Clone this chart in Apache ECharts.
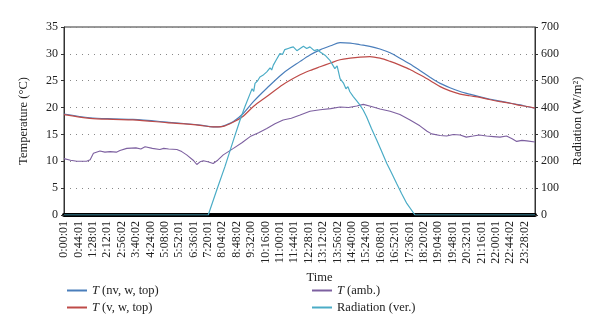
<!DOCTYPE html>
<html>
<head>
<meta charset="utf-8">
<script src="https://cdn.jsdelivr.net/npm/echarts@6/dist/echarts.min.js"></script>
<style>html,body{margin:0;padding:0;background:#fff}#c{width:600px;height:335px}</style>
</head>
<body>
<div id="c"></div>
<script>
// x values are minutes since 0:00
const tickLabels = ['0:00:01','0:44:01','1:28:01','2:12:01','2:56:02','3:40:02','4:24:00','5:08:00','5:52:01','6:36:01','7:20:01','8:04:02','8:48:02','9:32:00','10:16:00','11:00:01','11:44:01','12:28:01','13:12:02','13:56:02','14:40:00','15:24:00','16:08:01','16:52:01','17:36:01','18:20:02','19:04:00','19:48:01','20:32:01','21:16:01','22:00:01','22:44:02','23:28:02'];

const tNvWTop = [[0,18.8],[79,18.1],[150,17.9],[211,17.8],[314,17.3],[416,16.75],[456,16.4],[480,16.45],[497,16.8],[518,17.4],[548,18.9],[579,21.1],[620,23.6],[670,26.4],[722,28.6],[752,29.8],[783,30.75],[815,31.5],[844,32.1],[875,32.0],[905,31.7],[935,31.4],[966,30.9],[997,30.2],[1027,29.2],[1058,28.1],[1088,26.9],[1120,25.6],[1150,24.5],[1180,23.7],[1211,23.0],[1240,22.5],[1272,22.0],[1300,21.6],[1333,21.2],[1365,20.8],[1394,20.5],[1415,20.2],[1440,19.9]];

const tVWTop = [[0,18.7],[79,18.0],[150,17.8],[211,17.7],[314,17.2],[416,16.7],[456,16.4],[487,16.5],[518,17.3],[548,18.4],[579,20.2],[620,22.05],[670,24.3],[722,26.1],[752,26.9],[783,27.6],[815,28.3],[844,28.9],[875,29.2],[905,29.4],[935,29.5],[966,29.2],[997,28.6],[1027,27.9],[1058,27.1],[1088,26.1],[1120,25.0],[1150,23.9],[1180,23.1],[1211,22.5],[1240,22.2],[1272,21.9],[1300,21.5],[1333,21.1],[1365,20.8],[1394,20.4],[1415,20.2],[1440,19.9]];

const tAmb = [[0,10.5],[20,10.2],[39,10.0],[69,10.0],[80,10.3],[90,11.5],[110,11.9],[125,11.7],[141,11.8],[160,11.7],[171,12.0],[192,12.4],[220,12.5],[235,12.3],[248,12.7],[270,12.4],[293,12.2],[305,12.4],[320,12.3],[345,12.2],[360,11.8],[375,11.2],[395,10.2],[406,9.4],[416,9.9],[426,10.1],[440,9.9],[456,9.6],[470,10.2],[487,11.2],[518,12.4],[545,13.5],[569,14.6],[595,15.3],[620,16.1],[645,17.0],[670,17.7],[695,18.0],[722,18.6],[752,19.3],[783,19.6],[815,19.8],[844,20.1],[870,20.0],[895,20.3],[915,20.6],[940,20.2],[966,19.75],[997,19.3],[1027,18.7],[1058,17.7],[1088,16.6],[1110,15.6],[1124,15.1],[1150,14.8],[1170,14.7],[1190,15.0],[1211,14.9],[1230,14.5],[1251,14.7],[1270,14.9],[1292,14.7],[1313,14.6],[1333,14.5],[1353,14.7],[1370,14.2],[1384,13.7],[1400,13.9],[1415,13.8],[1440,13.6]];

const radiationVer = [[0,0],[441,0],[467,93],[492,180],[518,279],[538,353],[553,403],[569,452],[575,470],[580,460],[584,490],[592,500],[599,514],[608,520],[620,533],[630,548],[635,540],[640,558],[650,580],[660,601],[668,598],[675,616],[681,614],[690,622],[701,626],[712,612],[722,620],[732,628],[742,620],[752,626],[765,612],[775,616],[783,607],[798,595],[813,576],[828,545],[835,555],[844,508],[855,490],[862,470],[868,478],[874,459],[885,440],[895,425],[905,409],[915,390],[925,366],[940,322],[956,279],[970,240],[987,192],[1000,160],[1017,117],[1032,80],[1048,43],[1073,0],[1440,0]];

const serif = '"Liberation Serif", "DejaVu Serif", serif';
const chart = echarts.init(document.getElementById('c'));
const legendFmt = n => n.replace(/^T /, '{i|T} ');
const legendText = {fontFamily: serif, fontSize: 12.5, color: '#222', rich: {i: {fontFamily: serif, fontSize: 12.5, fontStyle: 'italic', color: '#222'}}};
chart.setOption({
  animation: false,
  grid: {left: 64, right: 65, top: 27, bottom: 120, show: true, borderColor: '#333', borderWidth: 1},
  legend: [
    {data: ['T (nv, w, top)', 'T (v, w, top)'], orient: 'vertical', left: 62, top: 279, itemWidth: 20, itemHeight: 2, itemGap: 4, icon: 'rect', formatter: legendFmt, textStyle: legendText},
    {data: ['T (amb.)', 'Radiation (ver.)'], orient: 'vertical', left: 307, top: 279, itemWidth: 20, itemHeight: 2, itemGap: 4, icon: 'rect', formatter: legendFmt, textStyle: legendText}
  ],
  xAxis: {
    type: 'value', min: 0, max: 1440, interval: 44,
    name: 'Time', nameLocation: 'middle', nameGap: 51,
    nameTextStyle: {fontFamily: serif, fontSize: 12.5, color: '#222', padding: [0, 0, 0, 40]},
    axisLine: {show: true, lineStyle: {color: '#000', width: 4}},
    axisTick: {show: false},
    splitLine: {show: false},
    axisLabel: {rotate: 90, margin: 6, fontFamily: serif, fontSize: 12, color: '#222',
      formatter: v => { const i = v / 44; return Number.isInteger(i) && tickLabels[i] ? tickLabels[i] : ''; }}
  },
  yAxis: [
    {type: 'value', min: 0, max: 35, interval: 5, position: 'left',
     name: 'Temperature (°C)', nameLocation: 'middle', nameGap: 34,
     nameTextStyle: {fontFamily: serif, fontSize: 12.5, color: '#222'},
     axisLine: {show: true, lineStyle: {color: '#333'}},
     axisTick: {show: true, length: 3, lineStyle: {color: '#333'}},
     axisLabel: {fontFamily: serif, fontSize: 12, color: '#222', margin: 6},
     splitLine: {show: true, lineStyle: {color: '#888', type: [1, 5], width: 1}}},
    {type: 'value', min: 0, max: 700, interval: 100, position: 'right',
     name: 'Radiation (W/m²)', nameLocation: 'middle', nameGap: 36, nameRotate: 90,
     nameTextStyle: {fontFamily: serif, fontSize: 12.5, color: '#222'},
     axisLine: {show: true, lineStyle: {color: '#333'}},
     axisTick: {show: true, length: 3, lineStyle: {color: '#333'}},
     axisLabel: {fontFamily: serif, fontSize: 12, color: '#222', margin: 6},
     splitLine: {show: false}}
  ],
  series: [
    {name: 'T (nv, w, top)', type: 'line', yAxisIndex: 0, data: tNvWTop, showSymbol: false, smooth: 0.3, lineStyle: {color: '#4a7ebb', width: 1.2}, itemStyle: {color: '#4a7ebb'}},
    {name: 'T (v, w, top)', type: 'line', yAxisIndex: 0, data: tVWTop, showSymbol: false, smooth: 0.3, lineStyle: {color: '#be4b48', width: 1.2}, itemStyle: {color: '#be4b48'}},
    {name: 'T (amb.)', type: 'line', yAxisIndex: 0, data: tAmb, showSymbol: false, lineStyle: {color: '#7d60a0', width: 1.1}, itemStyle: {color: '#7d60a0'}},
    {name: 'Radiation (ver.)', type: 'line', yAxisIndex: 1, data: radiationVer, showSymbol: false, lineStyle: {color: '#4bacc6', width: 1.2}, itemStyle: {color: '#4bacc6'}}
  ]
});
</script>
</body>
</html>
